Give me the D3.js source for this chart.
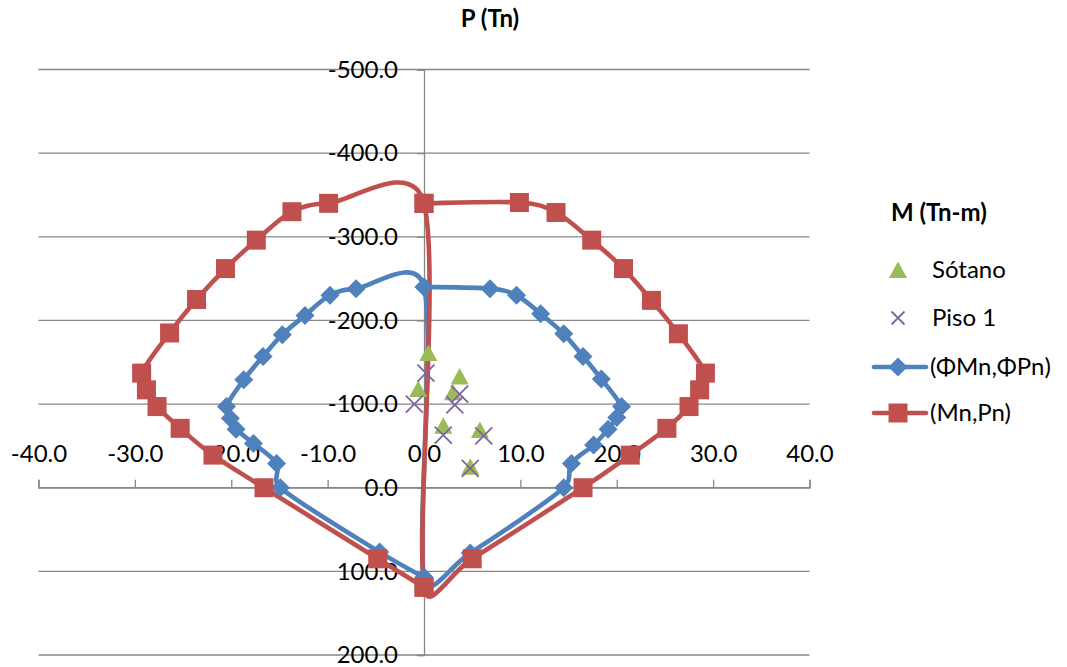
<!DOCTYPE html>
<html>
<head>
<meta charset="utf-8">
<script src="https://cdn.jsdelivr.net/npm/d3@7"></script>
<style>
  body { margin: 0; background: #fff; }
  svg { display: block; }
  text { font-family: Lato, "Open Sans", "DejaVu Sans", sans-serif; fill: #000; }
</style>
</head>
<body>
<svg id="chart" width="1067" height="667"></svg>
<script>
// Axis ticks
const momentTicks = [-40, -30, -20, -10, 0, 10, 20, 30, 40];
const axialTicks = [-500, -400, -300, -200, -100, 0, 100, 200];

// Nominal interaction diagram (Mn, Pn): right branch, centre line, left branch
const nominalM = [0, 9.9, 13.7, 17.4, 20.7, 23.6, 26.4, 29.2, 28.6, 27.5, 25.2, 21.4, 16.5, 5.0, 0,
                  0, -9.9, -13.7, -17.4, -20.6, -23.6, -26.4, -29.3, -28.8, -27.7, -25.3, -21.9, -16.6, -4.8, 0];
const nominalP = [-340, -341, -329, -296, -262, -224, -184, -137, -117, -97, -71, -39, 0, 85, 119,
                  -340, -340, -330, -296, -262, -225, -185, -137, -117, -97, -71, -39, 0, 85, 119];

// Design interaction diagram (ΦMn, ΦPn)
const designM = [0, 6.85, 9.6, 12.1, 14.5, 16.5, 18.4, 20.5, 20.0, 19.1, 17.6, 15.3, 14.5, 4.8, 0,
                 0, -7.05, -9.75, -12.35, -14.7, -16.7, -18.7, -20.5, -20.1, -19.5, -17.7, -15.3, -14.9, -4.6, 0];
const designP = [-240, -238, -230, -208, -184, -157, -130, -97, -84, -70, -51, -29, 0, 78, 107,
                 -240, -238, -230, -206, -183, -157, -129, -97, -83, -70, -53, -29, 0, 77, 107];

// Load combinations (M, P)
const sotanoM = [0.45, -0.6, 3.7, 3.0, 2.0, 5.8, 4.8];
const sotanoP = [-161, -118, -133, -114, -74, -69, -25];
const piso1M = [0.2, -1.0, 3.7, 3.2, 2.0, 6.2, 4.8];
const piso1P = [-137, -100, -112, -99, -63, -62, -23];

const legendLabels = ["Sótano", "Piso 1", "(ΦMn,ΦPn)", "(Mn,Pn)"];

const colors = { red: "#C0504D", blue: "#4F81BD", green: "#9BBB59", purple: "#8064A2", grid: "#868686" };

const svg = d3.select("#chart");
const x = d3.scaleLinear().domain([-40, 40]).range([38.5, 809.5]);
const y = d3.scaleLinear().domain([-500, 200]).range([69.5, 655]);

const fmt = d3.formatLocale({ decimal: ".", thousands: ",", grouping: [3], currency: ["", ""], minus: "-" }).format(".1f");

// Horizontal gridlines
svg.append("g").selectAll("line").data(axialTicks).join("line")
  .attr("x1", x(-40)).attr("x2", x(40))
  .attr("y1", d => y(d)).attr("y2", d => y(d))
  .attr("stroke", colors.grid).attr("stroke-width", 1.3);

// Moment axis crossing at P = 0, labels above
const xAxis = svg.append("g").attr("transform", `translate(0,${y(0)})`)
  .call(d3.axisTop(x).tickValues(momentTicks).tickFormat(fmt).tickSize(8).tickSizeOuter(8).tickPadding(18));
// Axial axis crossing at M = 0
const yAxis = svg.append("g").attr("transform", `translate(${x(0)},0)`)
  .call(d3.axisLeft(y).tickValues(axialTicks).tickFormat(fmt).tickSize(7).tickSizeOuter(7).tickPadding(19));
[xAxis, yAxis].forEach(a => {
  a.selectAll("path, line").attr("stroke", colors.grid).attr("stroke-width", 1.3);
  a.selectAll("text").attr("font-size", 24).attr("font-family", "Lato, 'Open Sans', sans-serif").attr("fill", "#000");
});

// Smoothed scatter line (Bezier through points, control arms capped at half a segment)
function smoothPath(pts) {
  const p = d3.path();
  const n = pts.length;
  const dist = (a, b) => Math.hypot(b[0] - a[0], b[1] - a[1]);
  p.moveTo(pts[0][0], pts[0][1]);
  for (let i = 0; i < n - 1; i++) {
    const p0 = pts[Math.max(i - 1, 0)], p1 = pts[i], p2 = pts[i + 1], p3 = pts[Math.min(i + 2, n - 1)];
    const d02 = dist(p0, p2), d12 = dist(p1, p2), d13 = dist(p1, p3);
    let f1 = 1 / 6, f2 = 1 / 6;
    if (d02 / 6 >= d12 / 2 && d02 > 0) f1 = d12 / (2 * d02);
    if (d13 / 6 >= d12 / 2 && d13 > 0) f2 = d12 / (2 * d13);
    const c1 = [p1[0] + (p2[0] - p0[0]) * f1, p1[1] + (p2[1] - p0[1]) * f1];
    const c2 = [p2[0] - (p3[0] - p1[0]) * f2, p2[1] - (p3[1] - p1[1]) * f2];
    p.bezierCurveTo(c1[0], c1[1], c2[0], c2[1], p2[0], p2[1]);
  }
  return p.toString();
}

const toPts = (ms, ps) => ms.map((m, i) => [x(m), y(ps[i])]);
const designPts = toPts(designM, designP);
const nominalPts = toPts(nominalM, nominalP);

// Lines
svg.append("path").attr("d", smoothPath(designPts)).attr("fill", "none")
  .attr("stroke", colors.blue).attr("stroke-width", 4.6).attr("stroke-linejoin", "round").attr("stroke-linecap", "round");
svg.append("path").attr("d", smoothPath(nominalPts)).attr("fill", "none")
  .attr("stroke", colors.red).attr("stroke-width", 4.6).attr("stroke-linejoin", "round").attr("stroke-linecap", "round");

// Marker shapes
const triPath = "M0,-8.5L9,8L-9,8Z";
const crossPath = "M-8.5,-8.5L8.5,8.5M-8.5,8.5L8.5,-8.5";
const diamondPath = "M0,-9.5L9.5,0L0,9.5L-9.5,0Z";
const squarePath = "M-9.5,-9.5H9.5V9.5H-9.5Z";

svg.append("g").selectAll("path").data(toPts(sotanoM, sotanoP)).join("path")
  .attr("transform", d => `translate(${d[0]},${d[1]})`).attr("d", triPath).attr("fill", colors.green);
svg.append("g").selectAll("path").data(toPts(piso1M, piso1P)).join("path")
  .attr("transform", d => `translate(${d[0]},${d[1]})`).attr("d", crossPath)
  .attr("fill", "none").attr("stroke", colors.purple).attr("stroke-width", 1.8);
svg.append("g").selectAll("path").data(designPts).join("path")
  .attr("transform", d => `translate(${d[0]},${d[1]})`).attr("d", diamondPath).attr("fill", colors.blue);
svg.append("g").selectAll("path").data(nominalPts).join("path")
  .attr("transform", d => `translate(${d[0]},${d[1]})`).attr("d", squarePath).attr("fill", colors.red);

// Titles
svg.append("text").attr("x", 490).attr("y", 19).attr("dy", "0.35em").attr("text-anchor", "middle")
  .attr("font-size", 24).attr("font-weight", "bold").text("P (Tn)");
svg.append("text").attr("x", 891).attr("y", 213).attr("dy", "0.35em")
  .attr("font-size", 24).attr("font-weight", "bold").text("M (Tn-m)");

// Legend
const legendY = [270, 318, 367, 413];
const lg = svg.append("g");
lg.append("path").attr("transform", `translate(898,${legendY[0]})`).attr("d", triPath).attr("fill", colors.green);
lg.append("path").attr("transform", `translate(898,${legendY[1]})`).attr("d", "M-6.5,-6.5L6.5,6.5M-6.5,6.5L6.5,-6.5")
  .attr("stroke", colors.purple).attr("stroke-width", 1.8).attr("fill", "none");
lg.append("line").attr("x1", 874).attr("x2", 926).attr("y1", legendY[2]).attr("y2", legendY[2])
  .attr("stroke", colors.blue).attr("stroke-width", 4.6).attr("stroke-linecap", "round");
lg.append("path").attr("transform", `translate(898,${legendY[2]})`).attr("d", diamondPath).attr("fill", colors.blue);
lg.append("line").attr("x1", 874).attr("x2", 926).attr("y1", legendY[3]).attr("y2", legendY[3])
  .attr("stroke", colors.red).attr("stroke-width", 4.6).attr("stroke-linecap", "round");
lg.append("path").attr("transform", `translate(898,${legendY[3]})`).attr("d", squarePath).attr("fill", colors.red);
lg.selectAll("text").data(legendLabels).join("text")
  .attr("x", (d, i) => i < 2 ? 932 : 930).attr("y", (d, i) => legendY[i]).attr("dy", "0.35em")
  .attr("font-size", 24).text(d => d);
</script>
</body>
</html>
